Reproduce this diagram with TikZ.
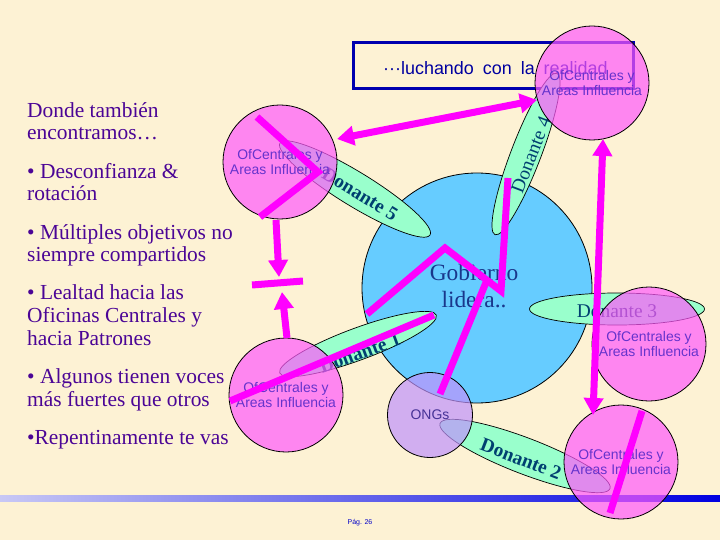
\documentclass[tikz,border=0pt]{standalone}
\usepackage{fontspec}
\setmainfont{Liberation Serif}
\newfontfamily\arialf{Liberation Sans}
\usetikzlibrary{shapes.geometric,arrows.meta}
\definecolor{bgc}{RGB}{253,242,212}
\definecolor{pinkf}{RGB}{255,89,252}
\definecolor{ongf}{RGB}{191,146,252}
\definecolor{greenf}{RGB}{153,255,204}
\definecolor{bluef}{RGB}{102,204,255}
\definecolor{magc}{RGB}{255,0,255}
\definecolor{leftc}{RGB}{75,5,150}
\definecolor{circtxt}{RGB}{102,51,204}
\definecolor{dontxt}{RGB}{0,64,112}
\definecolor{govtxt}{RGB}{25,55,140}
\definecolor{titlec}{RGB}{0,0,160}
\definecolor{boxc}{RGB}{0,0,175}
\begin{document}
\begin{tikzpicture}[x=1bp,y=-1bp,
  lefttxt/.style={anchor=base west, inner sep=0pt, text=leftc, font=\fontsize{21.5}{24}\selectfont},
  pinkc/.style={circle, draw=black, line width=0.8bp, fill=pinkf, fill opacity=0.7, text opacity=1,
    minimum size=114bp, inner sep=0pt, text=circtxt, align=center, font=\arialf\fontsize{14}{16}\selectfont},
  ellg/.style={ellipse, draw=black, line width=0.7bp, fill=greenf, inner sep=0pt},
  dontext/.style={inner sep=0pt, text=dontxt, font=\fontsize{19.5}{22}\selectfont},
  mag/.style={draw=magc, line width=7bp},
  marr/.style={mag, -{Triangle[length=17bp,width=19bp]}},
  mdarr/.style={mag, {Triangle[length=17bp,width=19bp]}-{Triangle[length=17bp,width=19bp]}}
]
\useasboundingbox (0,0) rectangle (720,540);
\fill[bgc] (0,0) rectangle (720,540);

% left text
\node[lefttxt] (l1) at (27,118) {Donde también};
\node[lefttxt] (l2) at (27,140) {encontramos…};
\node[lefttxt] (l3) at (27,179) {\textbullet\ Desconfianza \&};
\node[lefttxt] (l4) at (27,201) {rotación};
\node[lefttxt] (l5) at (27,240) {\textbullet\ Múltiples objetivos no};
\node[lefttxt] (l6) at (27,262) {siempre compartidos};
\node[lefttxt] (l7) at (27,299) {\textbullet\ Lealtad hacia las};
\node[lefttxt] (l8) at (27,322) {Oficinas Centrales y};
\node[lefttxt] (l9) at (27,345) {hacia Patrones};
\node[lefttxt] (l10) at (27,383) {\textbullet\ Algunos tienen voces};
\node[lefttxt] (l11) at (27,406) {más fuertes que otros};
\node[lefttxt] (l12) at (27,444) {\textbullet Repentinamente te vas};

% title box
\draw[boxc, line width=3bp] (353,43) rectangle (633,89);
\node[anchor=west, inner sep=0pt, text=titlec, font=\arialf\fontsize{18}{20}\selectfont] (title) at (383,68)
  {···luchando\hspace{9bp}con\hspace{9bp}la\hspace{9bp}realidad};

% bottom line and page number
\shade[left color={rgb,255:red,200;green,200;blue,245}, right color={rgb,255:red,0;green,0;blue,225}] (0,495) rectangle (720,501);
\node[inner sep=0pt, text={rgb,255:red,0;green,0;blue,200}, font=\arialf\fontsize{7}{8}\selectfont] (pag) at (360,523) {Pág. 26};

% government circle
\node[circle, draw=black, line width=0.8bp, fill=bluef, minimum size=230bp, inner sep=0pt] (gob) at (477,288) {};
\node[inner sep=0pt, text=govtxt, align=center, font=\fontsize{23.5}{28}\selectfont] (gobt) at (474,286) {Gobierno\\lidera..};

% donor ellipses
\node[ellg, minimum width=173bp, minimum height=30bp, rotate=69] (d4) at (526,154) {};
\node[ellg, minimum width=176bp, minimum height=34bp, rotate=-31.5] (d5) at (355,189) {};
\node[ellg, minimum width=167bp, minimum height=32bp, rotate=20.3] (d1) at (358,344) {};
\node[ellg, minimum width=175bp, minimum height=32bp] (d3) at (617,309) {};
\node[ellg, minimum width=182bp, minimum height=36bp, rotate=-21] (d2) at (525,456) {};

\node[dontext, rotate=69] (d4t) at (531,155) {Donante 4};
\node[dontext, rotate=-31.5, font=\bfseries\fontsize{19.5}{22}\selectfont] (d5t) at (360,194) {Donante 5};
\node[dontext, rotate=20.3, font=\bfseries\fontsize{19.5}{22}\selectfont] (d1t) at (360,353) {Donante 1};
\node[dontext] (d3t) at (617,311) {Donante 3};
\node[dontext, rotate=-21, font=\bfseries\fontsize{19.5}{22}\selectfont] (d2t) at (521,459) {Donante 2};

% ONGs
\node[circle, draw=black, line width=0.8bp, fill=ongf, fill opacity=0.7, text opacity=1, minimum size=85bp, inner sep=0pt,
  text={rgb,255:red,70;green,50;blue,150}, font=\arialf\fontsize{14}{16}\selectfont] (ong) at (430,415) {ONGs};

% pink circles
\node[pinkc] (c4) at (592,83) {OfCentrales y\\Areas Influencia};
\node[pinkc] (c5) at (280,162) {OfCentrales y\\Areas Influencia};
\node[pinkc] (c1) at (286,395) {OfCentrales y\\Areas Influencia};
\node[pinkc] (c3) at (649,344) {OfCentrales y\\Areas Influencia};
\node[pinkc] (c2) at (621,462) {OfCentrales y\\Areas Influencia};

% magenta connectors
\coordinate (a1) at (337,139);
\coordinate (a2) at (537,100);
\draw[mdarr] (a1) -- (a2);

\coordinate (v1) at (257,117);
\coordinate (v2) at (318,172);
\coordinate (v3) at (260,217);
\draw[mag, line join=miter] (v1) -- (v2) -- (v3);

\coordinate (b1) at (276,220);
\coordinate (b2) at (279,277);
\coordinate (b3) at (287,338);
\coordinate (b4) at (282,292);
\coordinate (bar1) at (252,285);
\coordinate (bar2) at (303,281);
\draw[marr] (b1) -- (b2);
\draw[marr] (b3) -- (b4);
\draw[mag] (bar1) -- (bar2);

\coordinate (e1) at (230,401);
\coordinate (e2) at (434,315);
\draw[mag] (e1) -- (e2);

\coordinate (z1) at (367,314);
\coordinate (z2) at (445,248);
\coordinate (z3) at (501,291);
\coordinate (z4) at (508,178);
\coordinate (zb) at (487,280);
\coordinate (zo) at (440,394);
\draw[mag, line join=miter] (z1) -- (z2) -- (z3) -- (z4);
\draw[mag] (zb) -- (zo);

\coordinate (r1) at (593,415);
\coordinate (r2) at (603,139);
\draw[mdarr] (r1) -- (r2);

\coordinate (g1) at (642,411);
\coordinate (g2) at (610,513);
\draw[mag] (g1) -- (g2);
\end{tikzpicture}
\end{document}
